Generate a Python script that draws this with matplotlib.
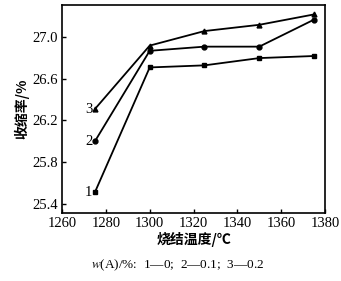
import matplotlib
matplotlib.use("Agg")
import matplotlib.pyplot as plt

temps = [1275, 1300, 1325, 1350, 1375]
shrink_1 = [25.51, 26.71, 26.73, 26.80, 26.82]
shrink_2 = [26.00, 26.87, 26.91, 26.91, 27.17]
shrink_3 = [26.31, 26.92, 27.06, 27.12, 27.22]
curve_names = ["1", "2", "3"]
xticks = [1260, 1280, 1300, 1320, 1340, 1360, 1380]
yticks = [25.4, 25.8, 26.2, 26.6, 27.0]

plt.rcParams["mathtext.fontset"] = "stix"
serif = ["Liberation Serif", "DejaVu Serif"]
cjk = ["Noto Sans CJK SC", "DejaVu Sans"]

fig = plt.figure(figsize=(3.41, 2.81), dpi=100)
ax = fig.add_axes([0.182, 0.242, 0.771, 0.740])

series = [(shrink_1, "s"), (shrink_2, "o"), (shrink_3, "^")]
for (vals, mk), name in zip(series, curve_names):
    ax.plot(temps, vals, color="black", lw=1.3, marker=mk, ms=3.5)
    ax.text(temps[0] - 1.2, vals[0], name, ha="right", va="center",
            fontsize=10.5, family=serif)

ax.set_xlim(1260, 1380)
ax.set_ylim(25.31, 27.31)
ax.set_xticks(xticks)
ax.set_yticks(yticks)
ax.set_yticklabels(["%.1f" % v for v in yticks])
ax.tick_params(direction="in", length=3, width=1, labelsize=10.5, pad=3)
for lab in ax.get_xticklabels() + ax.get_yticklabels():
    lab.set_family(serif)
for sp in ax.spines.values():
    sp.set_linewidth(1.2)

ax.set_xlabel("烧结温度/℃", family=cjk, fontsize=10, fontweight="bold", labelpad=1)
ax.set_ylabel("收缩率/%", family=cjk, fontsize=10, fontweight="bold", labelpad=2)

fig.text(0.522, 0.057, "$w$(A)/%:  1—0;  2—0.1;  3—0.2", ha="center", va="center",
         fontsize=9.5, family=["Liberation Serif", "Noto Sans CJK SC"])

fig.savefig("out.png", dpi=100)
